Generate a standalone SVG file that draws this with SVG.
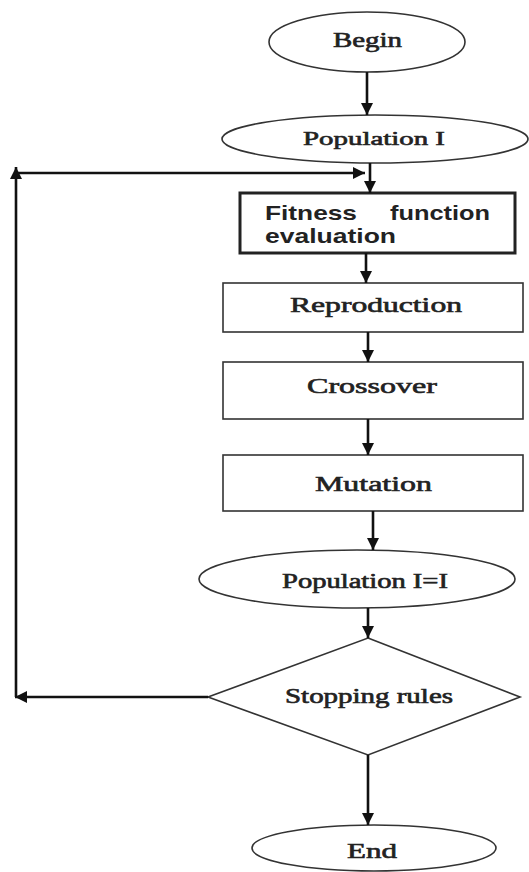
<svg xmlns="http://www.w3.org/2000/svg" width="529" height="872" viewBox="0 0 529 872">
<style>
.shape{fill:#fff;stroke:#333;stroke-width:1.6}
.thick{fill:#fff;stroke:#222;stroke-width:3}
.conn{fill:none;stroke:#111;stroke-width:2.6}
.serif{font-family:"Liberation Serif","DejaVu Serif",serif;font-weight:normal;fill:#222;stroke:#222;stroke-width:0.6}
.sans{font-family:"Liberation Sans",Arial,sans-serif;font-weight:bold;fill:#222}
</style>
<defs>
<marker id="ah" viewBox="0 0 10 10" refX="10" refY="5" markerWidth="12" markerHeight="12" markerUnits="userSpaceOnUse" orient="auto">
<path d="M0,0 L10,5 L0,10 z" fill="#111"/>
</marker>
</defs>
<g id="begin">
<ellipse class="shape" cx="367" cy="42" rx="98" ry="30"/>
<text class="serif" x="333" y="47" font-size="20" textLength="69" lengthAdjust="spacingAndGlyphs">Begin</text>
</g>
<g id="population1">
<ellipse class="shape" cx="375" cy="139" rx="153" ry="24"/>
<text class="serif" x="303" y="145" font-size="19" textLength="142" lengthAdjust="spacingAndGlyphs">Population I</text>
</g>
<g id="fitness">
<rect class="thick" x="240" y="193" width="275" height="60"/>
<text class="sans" x="265" y="220" font-size="21" textLength="92" lengthAdjust="spacingAndGlyphs">Fitness</text>
<text class="sans" x="390" y="220" font-size="21" textLength="100" lengthAdjust="spacingAndGlyphs">function</text>
<text class="sans" x="265" y="243" font-size="21" textLength="131" lengthAdjust="spacingAndGlyphs">evaluation</text>
</g>
<g id="reproduction">
<rect class="shape" x="223" y="283" width="300" height="49"/>
<text class="serif" x="290" y="312" font-size="21" textLength="172" lengthAdjust="spacingAndGlyphs">Reproduction</text>
</g>
<g id="crossover">
<rect class="shape" x="223" y="362" width="300" height="57"/>
<text class="serif" x="307" y="393" font-size="21" textLength="130" lengthAdjust="spacingAndGlyphs">Crossover</text>
</g>
<g id="mutation">
<rect class="shape" x="223" y="455" width="300" height="56"/>
<text class="serif" x="315" y="491" font-size="21" textLength="117" lengthAdjust="spacingAndGlyphs">Mutation</text>
</g>
<g id="population2">
<ellipse class="shape" cx="357" cy="579" rx="158" ry="29"/>
<text class="serif" x="282" y="588" font-size="20" textLength="166" lengthAdjust="spacingAndGlyphs">Population I=I</text>
</g>
<g id="stopping">
<polygon class="shape" points="368,638 520,697 368,755 208,697"/>
<text class="serif" x="285" y="703" font-size="20" textLength="168" lengthAdjust="spacingAndGlyphs">Stopping rules</text>
</g>
<g id="end">
<ellipse class="shape" cx="374" cy="848" rx="122" ry="23"/>
<text class="serif" x="347" y="858" font-size="21" textLength="50" lengthAdjust="spacingAndGlyphs">End</text>
</g>
<g id="connectors">
<path class="conn" d="M367,72 V115" marker-end="url(#ah)"/>
<path class="conn" d="M370,163 V193" marker-end="url(#ah)"/>
<path class="conn" d="M366,253 V283" marker-end="url(#ah)"/>
<path class="conn" d="M368,332 V362" marker-end="url(#ah)"/>
<path class="conn" d="M368,419 V455" marker-end="url(#ah)"/>
<path class="conn" d="M373,511 V550" marker-end="url(#ah)"/>
<path class="conn" d="M368,608 V638" marker-end="url(#ah)"/>
<path class="conn" d="M368,755 V825" marker-end="url(#ah)"/>
<path class="conn" d="M208,697 H15" marker-end="url(#ah)"/>
<path class="conn" d="M16,697 V167" marker-end="url(#ah)"/>
<path class="conn" d="M16,173 H365" marker-end="url(#ah)"/>
</g>
</svg>
